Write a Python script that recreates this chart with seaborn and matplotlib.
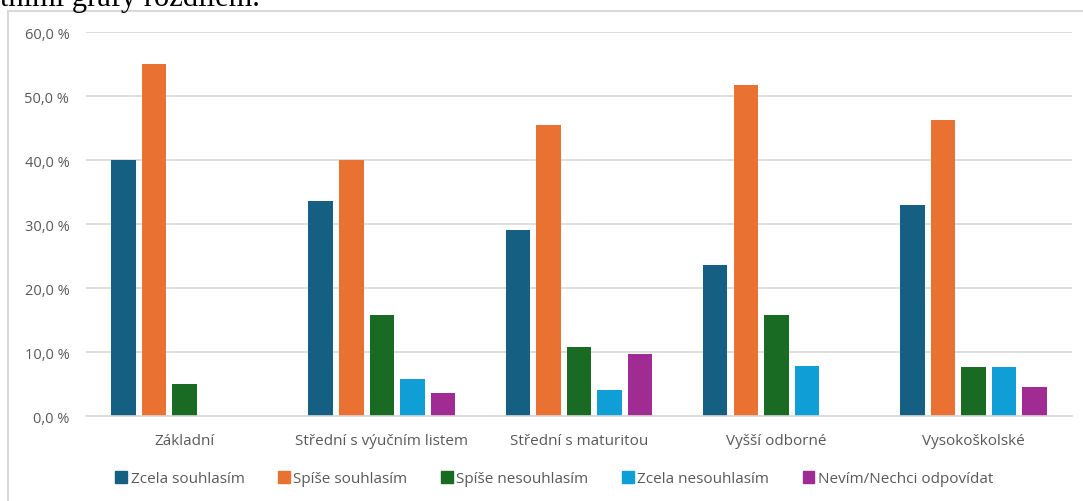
import matplotlib
matplotlib.use("Agg")
import matplotlib.pyplot as plt
import matplotlib.patches as mpatches
from matplotlib.ticker import FuncFormatter, MultipleLocator
import seaborn as sns
import pandas as pd

# Education level categories and answer options
categories = ["Základní", "Střední s výučním listem", "Střední s maturitou",
              "Vyšší odborné", "Vysokoškolské"]
answers = ["Zcela souhlasím", "Spíše souhlasím", "Spíše nesouhlasím",
           "Zcela nesouhlasím", "Nevím/Nechci odpovídat"]

# Share of respondents (%) per answer, in category order
zcela_souhlasim = [40.0, 33.6, 29.1, 23.7, 33.0]
spise_souhlasim = [55.0, 40.0, 45.5, 51.7, 46.2]
spise_nesouhlasim = [5.0, 15.8, 10.8, 15.8, 7.7]
zcela_nesouhlasim = [0.0, 5.8, 4.1, 7.8, 7.7]
nevim = [0.0, 3.7, 9.7, 0.0, 4.5]

colors = ["#156082", "#E97132", "#196B24", "#0F9ED5", "#A02B93"]

series = [zcela_souhlasim, spise_souhlasim, spise_nesouhlasim, zcela_nesouhlasim, nevim]
rows = []
for ans, vals in zip(answers, series):
    for cat, v in zip(categories, vals):
        rows.append({"Vzdělání": cat, "Odpověď": ans, "Podíl": v})
df = pd.DataFrame(rows)

sns.set_theme(style="white")
plt.rcParams["font.family"] = ["Open Sans", "DejaVu Sans"]
text_color = "#595959"
grid_color = "#D9D9D9"

fig = plt.figure(figsize=(10.83, 5.02), dpi=100)
ax = fig.add_axes([0.0794, 0.1687, 0.9106, 0.7653])

sns.barplot(data=df, x="Vzdělání", y="Podíl", hue="Odpověď",
            order=categories, hue_order=answers, palette=colors,
            width=0.775, gap=0.2, linewidth=0, errorbar=None,
            saturation=1, ax=ax, legend=True)

ax.set_ylim(0, 60)
ax.set_xlim(-0.5, len(categories) - 0.5)
ax.yaxis.set_major_locator(MultipleLocator(10))
ax.yaxis.set_major_formatter(FuncFormatter(lambda v, _: f"{v:.1f} %".replace(".", ",")))
ax.set_xlabel("")
ax.set_ylabel("")
ax.grid(axis="y", color=grid_color, linewidth=1.2)
ax.set_axisbelow(True)
for side in ["top", "right", "left"]:
    ax.spines[side].set_visible(False)
ax.spines["bottom"].set_color(grid_color)
ax.spines["bottom"].set_linewidth(1.2)
ax.tick_params(axis="y", length=0, pad=12, labelsize=10.5, labelcolor=text_color)
ax.tick_params(axis="x", length=0, pad=12, labelsize=11, labelcolor=text_color)

ax.legend_.remove()
handles = [mpatches.Patch(color=c, label=a) for c, a in zip(colors, answers)]
fig.legend(handles=handles, loc="center", bbox_to_anchor=(0.512, 0.044),
           ncol=5, frameon=False, fontsize=11, labelcolor=text_color,
           handlelength=0.75, handleheight=0.75, handletextpad=0.25,
           columnspacing=2.2)

# Chart frame
frame = mpatches.Rectangle((8 / 1083, -0.1), 1.2, 1 - 12 / 502 + 0.1,
                           transform=fig.transFigure, fill=False,
                           edgecolor=grid_color, linewidth=1.5)
fig.patches.append(frame)

# Trailing line of the surrounding paragraph
fig.text(0.0, 1 - 6 / 502, "tními grafy rozdílem.", ha="left", va="baseline",
         fontsize=22, color="black", family=["Liberation Serif", "DejaVu Serif"])

fig.savefig("out.png", dpi=100)
